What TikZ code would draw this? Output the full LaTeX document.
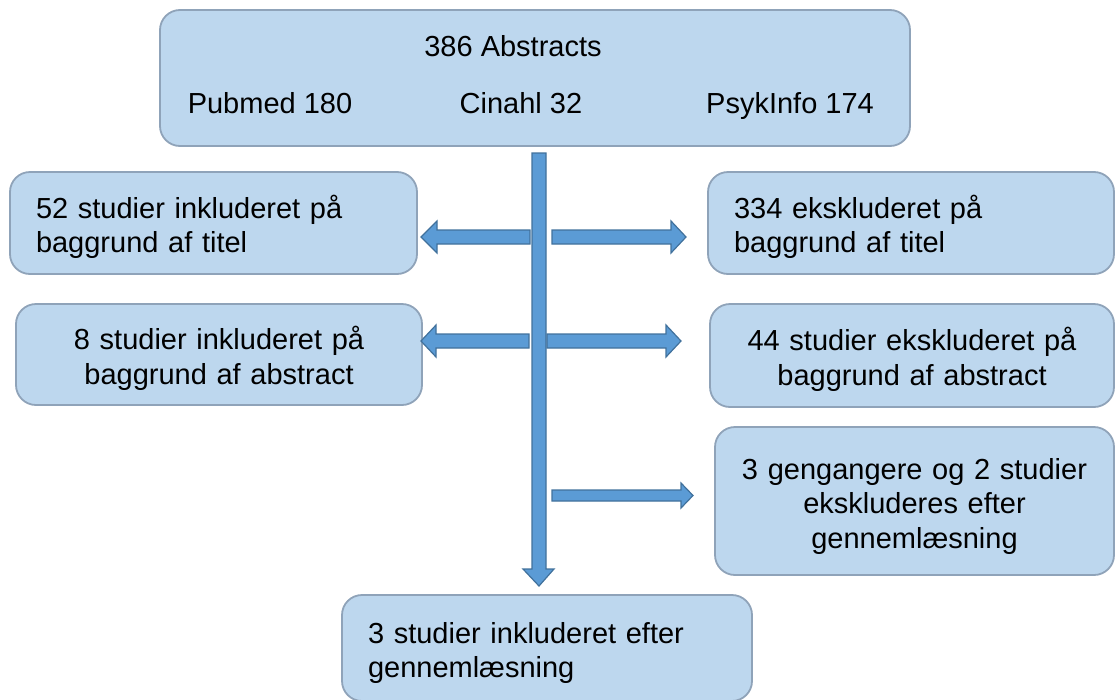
\documentclass[tikz,border=0pt]{standalone}
\usepackage{fontspec}
\setmainfont{Liberation Sans}
\definecolor{boxfill}{HTML}{BDD7EE}
\definecolor{boxborder}{HTML}{8FA3B9}
\definecolor{arrowfill}{HTML}{5B9BD5}
\definecolor{arrowborder}{HTML}{41719C}
\tikzset{
  stagebox/.style={draw=boxborder, fill=boxfill, line width=1.8pt, rounded corners=20pt,
    inner ysep=0pt, font=\fontsize{29}{34.5}\selectfont},
  leftbox/.style={stagebox, align=left, inner xsep=26pt},
  centerbox/.style={stagebox, align=center, inner xsep=10pt},
  label/.style={inner sep=0pt, font=\fontsize{29}{34}\selectfont},
  blockarrow/.style={fill=arrowfill, draw=arrowborder, line width=1.2pt, line join=miter}
}
\newcommand{\firstline}{\rule{0pt}{31pt}}
\begin{document}
\begin{tikzpicture}[x=1pt,y=-1pt]
\useasboundingbox (0,0) rectangle (1115,699);
\clip (0,0) rectangle (1115,699);
% boxes
\node[stagebox, minimum width=750pt, minimum height=136pt] (top) at (535,78) {};
\node[label, anchor=base] (abs) at (513,56.5) {386 Abstracts};
\node[label, anchor=base] (pub) at (270,113.5) {Pubmed 180};
\node[label, anchor=base] (cin) at (521,113.5) {Cinahl 32};
\node[label, anchor=base] (psy) at (790,113.5) {PsykInfo 174};

\node[leftbox, text width=355pt, minimum height=102pt] (l1) at (213.5,223) {\firstline 52 studier inkluderet på\\baggrund af titel};
\node[leftbox, text width=354pt, minimum height=102pt] (r1) at (911,223) {\firstline 334 ekskluderet på\\baggrund af titel};
\node[centerbox, text width=386pt, minimum height=101pt] (l2) at (219,354.5) {\firstline 8 studier inkluderet på\\baggrund af abstract};
\node[centerbox, text width=384pt, minimum height=103pt] (r2) at (912,355.5) {\firstline 44 studier ekskluderet på\\baggrund af abstract};
\node[centerbox, text width=379pt, minimum height=148pt] (r3) at (914.5,501) {\firstline 3 gengangere og 2 studier\\ekskluderes efter\\gennemlæsning};
\node[leftbox, text width=358pt, minimum height=106pt] (bot) at (547,648) {\firstline 3 studier inkluderet efter\\gennemlæsning};

% horizontal block arrows
\draw[blockarrow] (530,230) -- (437,230) -- (437,221) -- (421,237) -- (437,253) -- (437,244) -- (530,244) -- cycle;
\draw[blockarrow] (552,230) -- (671,230) -- (671,221) -- (686,237) -- (671,253) -- (671,244) -- (552,244) -- cycle;
\draw[blockarrow] (529,334) -- (436,334) -- (436,325) -- (421,341) -- (436,357) -- (436,348) -- (529,348) -- cycle;
\draw[blockarrow] (547,334) -- (666,334) -- (666,325) -- (681,341) -- (666,357) -- (666,348) -- (547,348) -- cycle;
\draw[blockarrow] (552,490) -- (681,490) -- (681,483) -- (693,495.5) -- (681,508) -- (681,501) -- (552,501) -- cycle;
% vertical block arrow
\draw[blockarrow] (532,153) -- (546,153) -- (546,569) -- (554,569) -- (539,586) -- (523,569) -- (532,569) -- cycle;
\end{tikzpicture}
\end{document}
